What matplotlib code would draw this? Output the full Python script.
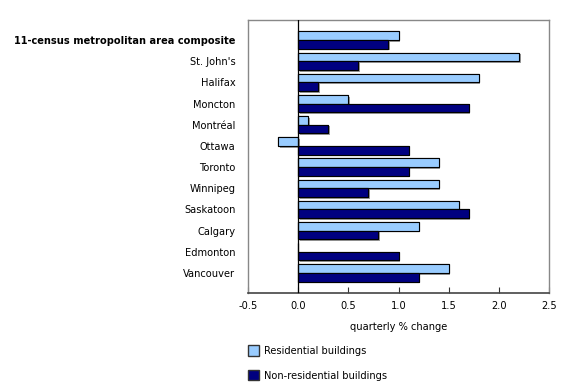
import numpy as np
import matplotlib
matplotlib.use('Agg')
import matplotlib.pyplot as plt
import matplotlib.patheffects as pe
from matplotlib.patches import Patch

plt.rcParams['font.family'] = ['DejaVu Sans']

# 数据
cities = ['11-census metropolitan area composite', "St. John's", 'Halifax', 'Moncton',
          'Montréal', 'Ottawa', 'Toronto', 'Winnipeg', 'Saskatoon', 'Calgary',
          'Edmonton', 'Vancouver']
residential = [1.0, 2.2, 1.8, 0.5, 0.1, -0.2, 1.4, 1.4, 1.6, 1.2, 0.0, 1.5]
non_residential = [0.9, 0.6, 0.2, 1.7, 0.3, 1.1, 1.1, 0.7, 1.7, 0.8, 1.0, 1.2]
xticks = [-0.5, 0.0, 0.5, 1.0, 1.5, 2.0, 2.5]

light = '#99ccff'
dark = '#000080'
fs = 7.1

fig = plt.figure(figsize=(5.8, 3.85), dpi=100)
ax = fig.add_axes([0.4276, 0.239, 0.519, 0.709])

y = np.arange(len(cities))
h = 0.41
shadow = [pe.withSimplePatchShadow(offset=(1.2, -1.2), shadow_rgbFace='#777777', alpha=0.7), pe.Normal()]

ax.barh(y - h / 2, residential, height=h, color=light, edgecolor='black', linewidth=0.8,
        path_effects=shadow, zorder=3)
ax.barh(y + h / 2, non_residential, height=h, color=dark, edgecolor='black', linewidth=0.8,
        path_effects=shadow, zorder=3)

ax.axvline(0, color='black', linewidth=0.9, zorder=4)

ax.set_xlim(-0.5, 2.5)
ax.set_ylim(len(cities) - 1 + 0.95, -0.95)
ax.set_xticks(xticks)
ax.set_xticklabels([f'{t:.1f}' for t in xticks], fontsize=fs)
ax.tick_params(axis='x', direction='in', length=4, color='#333333', pad=6)
ax.set_yticks(y)
ax.set_yticklabels(cities, fontsize=fs)
ax.tick_params(axis='y', length=0, pad=9)
ax.get_yticklabels()[0].set_fontweight('bold')

for s in ['top', 'right', 'left']:
    ax.spines[s].set_color('#888888')
    ax.spines[s].set_linewidth(1.0)
ax.spines['bottom'].set_color('#444444')
ax.spines['bottom'].set_linewidth(1.2)

ax.set_xlabel('quarterly % change', fontsize=fs, labelpad=8)

handles = [Patch(facecolor=light, edgecolor='#333333', label='Residential buildings'),
           Patch(facecolor=dark, edgecolor='#333333', label='Non-residential buildings')]
fig.legend(handles=handles, loc='upper left', bbox_to_anchor=(0.42, 0.113),
           frameon=False, fontsize=fs, handlelength=1.2, handleheight=1.2,
           handletextpad=0.5, labelspacing=1.45, borderaxespad=0)

fig.savefig('out.png', dpi=100)
